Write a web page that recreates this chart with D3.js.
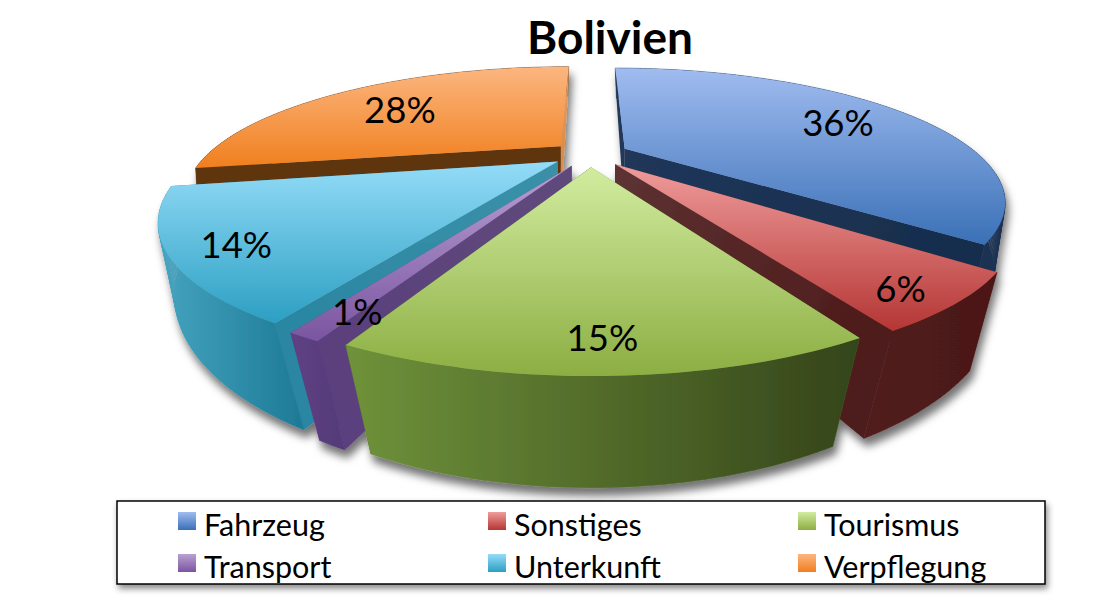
<!DOCTYPE html>
<html>
<head>
<meta charset="utf-8">
<script src="https://cdn.jsdelivr.net/npm/d3@7"></script>
<style>
  html, body { margin: 0; padding: 0; background: #fff; }
  text { font-family: Lato, "Open Sans", sans-serif; fill: #000; }
</style>
</head>
<body>
<div id="container"></div>
<script>
/* DATA */
const title = "Bolivien";
const categories = ["Fahrzeug", "Sonstiges", "Tourismus", "Transport", "Unterkunft", "Verpflegung"];
// labels show them rounded
const shares = [36.3, 5.9, 14.8, 1, 14, 28];

/* COLOURS */
const topLight = ["#a0bcf0", "#f09c9c", "#d2eca0", "#b9a0d4", "#94dcf8", "#fcb680"];
const topDark = ["#3a70b6", "#b43634", "#8cae42", "#7a55a0", "#2c9fc2", "#f07f1e"];
const wallLeft = ["#1a3152", "#511c1c", "#6f923a", "#5f4184", "#45a4c0", "#5f3410"];
const wallRight = ["#1a3152", "#4c1818", "#34441a", "#553a78", "#1d7a96", "#5f3410"];
// radial faces: colour at the pie centre, colour at the rim
const faceStartIn = ["#22395a", "#5c3232", "#6f923a", "#5f4a7a", "#3a90a8", "#5f3410"];
const faceStartOut = ["#22395a", "#4e1a1a", "#6f923a", "#5a3f7e", "#2a86a2", "#5f3410"];
const faceEndIn = ["#20375a", "#5c3232", "#34441a", "#5f4a7a", "#3a90a8", "#dd8c46"];
const faceEndOut = ["#172d4c", "#4e1a1a", "#34441a", "#5a3f7e", "#2a86a2", "#e9a066"];

/* LABEL PLACEMENT on the disc: radius and angle nudge in degrees */
const labelRadius = [0.735, 0.9, 0.88, 0.886, 0.868, 0.673];
const labelNudge = [3.6, 1.9, 0.2, -1.4, -2.2, -4.2];

/* CONSTANTS */
const width = 1099;
const height = 609;
const originX = 590;
const originY = 154;
const explode = 0.11;

// perspective of the two pie planes
const topPlane = { a: 353, b: 115, p: 0.383, y0: 0 };
const bottomPlane = { a: 352, b: 156, p: 0.316, y0: 67 };

const project = (plane, u, v) => {
  const w = 1 - plane.p * v;
  return [originX + plane.a * u / w, originY + plane.y0 + plane.b * v / w];
};

const pie = d3.pie().sort(null).startAngle(0).endAngle(2 * Math.PI);
const arcs = pie(shares);
const percent = d3.format(".0f");

// disc point of a slice, moved out along its middle angle
const discPoint = (d, angle, r) => {
  const mid = (d.startAngle + d.endAngle) / 2;
  return [
    r * Math.sin(angle) + explode * Math.sin(mid),
    -r * Math.cos(angle) - explode * Math.cos(mid)
  ];
};

const anglesOf = d => {
  const n = Math.max(4, Math.ceil((d.endAngle - d.startAngle) / 0.02));
  return d3.range(n + 1).map(i => d.startAngle + (d.endAngle - d.startAngle) * i / n);
};

const path = pts => "M" + pts.map(p => p.join(",")).join("L") + "Z";

/* CREATE SVG ELEMENT */
const svg = d3.select("#container")
  .append("svg")
  .attr("width", width)
  .attr("height", height)
  .style("display", "block");

const defs = svg.append("defs");

const shadow = defs.append("filter")
  .attr("id", "pieShadow")
  .attr("x", "-10%").attr("y", "-10%")
  .attr("width", "120%").attr("height", "125%");
shadow.append("feDropShadow")
  .attr("dx", 3).attr("dy", 8)
  .attr("stdDeviation", 4.5)
  .attr("flood-color", "#000")
  .attr("flood-opacity", 0.55);

const boxShadow = defs.append("filter")
  .attr("id", "boxShadow")
  .attr("x", "-3%").attr("y", "-15%")
  .attr("width", "106%").attr("height", "140%");
boxShadow.append("feDropShadow")
  .attr("dx", 2).attr("dy", 4)
  .attr("stdDeviation", 3)
  .attr("flood-color", "#000")
  .attr("flood-opacity", 0.45);

const addGradient = (id, x1, y1, x2, y2, from, to) => {
  const g = defs.append("linearGradient")
    .attr("id", id)
    .attr("gradientUnits", "userSpaceOnUse")
    .attr("x1", x1).attr("y1", y1)
    .attr("x2", x2).attr("y2", y2);
  g.append("stop").attr("offset", 0).attr("stop-color", from);
  g.append("stop").attr("offset", 1).attr("stop-color", to);
};

/* DRAW SLICES, back to front */
const drawOrder = [5, 0, 4, 1, 3, 2];
const pieGroup = svg.append("g").attr("filter", "url(#pieShadow)");

drawOrder.forEach(i => {
  const d = arcs[i];
  const g = pieGroup.append("g").attr("class", `slice${i}`);
  const angles = anglesOf(d);
  const rim = angles.map(a => discPoint(d, a, 1));
  const centre = discPoint(d, 0, 0);

  const topRim = rim.map(p => project(topPlane, p[0], p[1]));
  const bottomRim = rim.map(p => project(bottomPlane, p[0], p[1]));
  const topCentre = project(topPlane, centre[0], centre[1]);
  const bottomCentre = project(bottomPlane, centre[0], centre[1]);
  const last = topRim.length - 1;

  const faces = [
    { key: "s", top: topRim[0], bottom: bottomRim[0], from: faceStartIn[i], to: faceStartOut[i], far: Math.cos(d.startAngle) > 0 },
    { key: "e", top: topRim[last], bottom: bottomRim[last], from: faceEndIn[i], to: faceEndOut[i], far: Math.cos(d.endAngle) > 0 }
  ];

  const drawFace = f => {
    addGradient(`face${f.key}${i}`, topCentre[0], topCentre[1], f.top[0], f.top[1], f.from, f.to);
    g.append("path")
      .attr("d", path([topCentre, f.top, f.bottom, bottomCentre]))
      .attr("fill", `url(#face${f.key}${i})`);
  };

  // faces on the near half sit behind the wall
  faces.filter(f => !f.far).forEach(drawFace);

  // outer wall, one quad per step so the silhouette stays tangent
  const wallX = d3.extent(topRim.concat(bottomRim), p => p[0]);
  addGradient(`wall${i}`, wallX[0], 0, wallX[1], 0, wallLeft[i], wallRight[i]);
  const wallPath = d3.range(last)
    .map(k => path([topRim[k], topRim[k + 1], bottomRim[k + 1], bottomRim[k]]))
    .join("");
  g.append("path")
    .attr("d", wallPath)
    .attr("fill", `url(#wall${i})`)
    .attr("stroke", `url(#wall${i})`)
    .attr("stroke-width", 0.5);

  faces.filter(f => f.far).forEach(drawFace);

  // top surface
  const topShape = [topCentre].concat(topRim);
  const topY = d3.extent(topShape, p => p[1]);
  addGradient(`top${i}`, 0, topY[0], 0, topY[1], topLight[i], topDark[i]);
  g.append("path")
    .attr("d", path(topShape))
    .attr("fill", `url(#top${i})`);
});

/* LABELS */
svg.selectAll(".label")
  .data(arcs)
  .join("text")
  .attr("class", "label")
  .attr("text-anchor", "middle")
  .attr("dominant-baseline", "central")
  .attr("font-size", 36.5)
  .attr("transform", (d, i) => {
    const mid = (d.startAngle + d.endAngle) / 2 + labelNudge[i] * Math.PI / 180;
    const p = discPoint(d, mid, labelRadius[i]);
    const q = project(topPlane, p[0], p[1]);
    return `translate(${q[0]},${q[1]})`;
  })
  .text(d => percent(d.value) + "%");

/* TITLE */
svg.append("text")
  .attr("x", 610)
  .attr("y", 54)
  .attr("text-anchor", "middle")
  .attr("font-size", 46)
  .attr("font-weight", 700)
  .text(title);

/* LEGEND */
svg.append("rect")
  .attr("x", 117)
  .attr("y", 501)
  .attr("width", 928)
  .attr("height", 83)
  .attr("fill", "#fff")
  .attr("stroke", "#000")
  .attr("stroke-width", 1.5)
  .attr("filter", "url(#boxShadow)");

const legendX = d3.scalePoint().domain([0, 1, 2]).range([178, 798]);
const legendY = d3.scalePoint().domain([0, 1]).range([512, 554]);

const legendItem = svg.selectAll(".legendItem")
  .data(categories)
  .join("g")
  .attr("class", "legendItem")
  .attr("transform", (d, i) => `translate(${legendX(i % 3)},${legendY(Math.floor(i / 3))})`);

categories.forEach((c, i) => {
  addGradient(`swatch${i}`, 0, 0, 0, 18, topLight[i], topDark[i]);
});

legendItem.append("rect")
  .attr("width", 18)
  .attr("height", 18)
  .attr("fill", (d, i) => `url(#swatch${i})`);

legendItem.append("text")
  .attr("x", 26)
  .attr("y", 24)
  .attr("font-size", 30.5)
  .text(d => d);
</script>
</body>
</html>
